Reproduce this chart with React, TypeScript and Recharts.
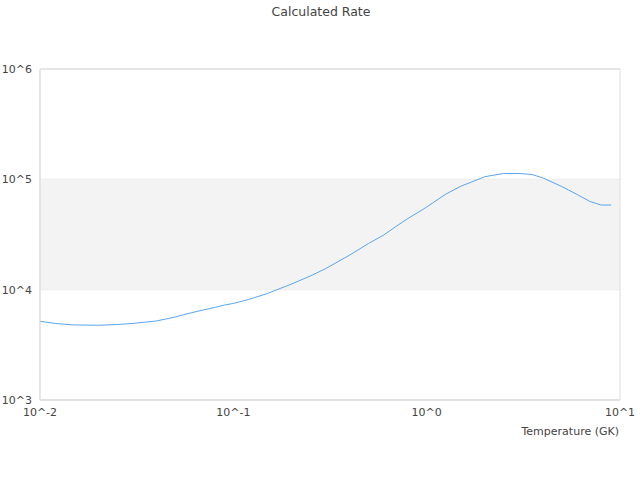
import React from "react";
import { LineChart, Line, XAxis, YAxis, CartesianGrid, ReferenceArea } from "recharts";

const temperatures = [
  0.01, 0.012, 0.015, 0.02, 0.025, 0.03, 0.04, 0.05, 0.06, 0.07, 0.08, 0.09,
  0.1, 0.12, 0.15, 0.2, 0.25, 0.3, 0.4, 0.5, 0.6, 0.7, 0.8, 0.9,
  1, 1.25, 1.5, 1.75, 2, 2.5, 3, 3.5, 4, 5, 6, 7, 8, 9,
];
const rates = [
  5170, 4940, 4790, 4760, 4830, 4940, 5200, 5650, 6150, 6550, 6890, 7260,
  7500, 8150, 9230, 11250, 13300, 15500, 20600, 26200, 31300, 37800, 44200, 50000,
  56100, 73100, 86500, 96200, 105700, 113000, 113000, 110700, 102800, 86100, 72900, 62900, 58500, 58500,
];
const xTicks = [0.01, 0.1, 1, 10];
const yTicks = [1e3, 1e4, 1e5, 1e6];
const titleText = "Calculated Rate";
const xLabel = "Temperature (GK)";

const data = temperatures.map((t, i) => ({ t, r: rates[i] }));

const powerLabel = (v: number) => "10^" + Math.round(Math.log10(v));

const FONT = "'DejaVu Sans', sans-serif";

export default function App() {
  return (
    <div style={{ position: "absolute", left: 0, top: 0, width: 640, height: 480, background: "#fff" }}>
      <LineChart
        width={640}
        height={480}
        data={data}
        margin={{ top: 69, right: 20, bottom: 50, left: 0 }}
      >
        <ReferenceArea x1={0.01} x2={10} y1={1e4} y2={1e5} fill="#f3f3f3" fillOpacity={1} stroke="none" />
        <CartesianGrid vertical={false} stroke="#dddddd" horizontalValues={yTicks} />
        <ReferenceArea x1={0.01} x2={10} y1={1e3} y2={1e6} fill="none" stroke="#dddddd" strokeWidth={1} />
        <XAxis
          dataKey="t"
          type="number"
          scale="log"
          domain={[0.01, 10]}
          ticks={xTicks}
          tickFormatter={powerLabel}
          tickLine={false}
          axisLine={{ stroke: "#dddddd" }}
          tick={{ fill: "#444444", fontSize: 11, fontFamily: FONT }}
          interval={0}
          allowDataOverflow
        />
        <YAxis
          type="number"
          scale="log"
          domain={[1e3, 1e6]}
          ticks={yTicks}
          tickFormatter={powerLabel}
          tickLine={false}
          axisLine={{ stroke: "#dddddd" }}
          width={40}
          tick={{ fill: "#444444", fontSize: 11, fontFamily: FONT }}
          interval={0}
          allowDataOverflow
        />
        <Line
          dataKey="r"
          type="linear"
          stroke="#5aa5ee"
          strokeWidth={1}
          dot={false}
          isAnimationActive={false}
        />
      </LineChart>
      <svg
        width={640}
        height={480}
        style={{ position: "absolute", left: 0, top: 0, pointerEvents: "none" }}
      >
        <text x={321} y={16} textAnchor="middle" fontFamily={FONT} fontSize={12.5} fill="#444444">
          {titleText}
        </text>
        <text x={619} y={435} textAnchor="end" fontFamily={FONT} fontSize={11} fill="#444444">
          {xLabel}
        </text>
      </svg>
    </div>
  );
}
